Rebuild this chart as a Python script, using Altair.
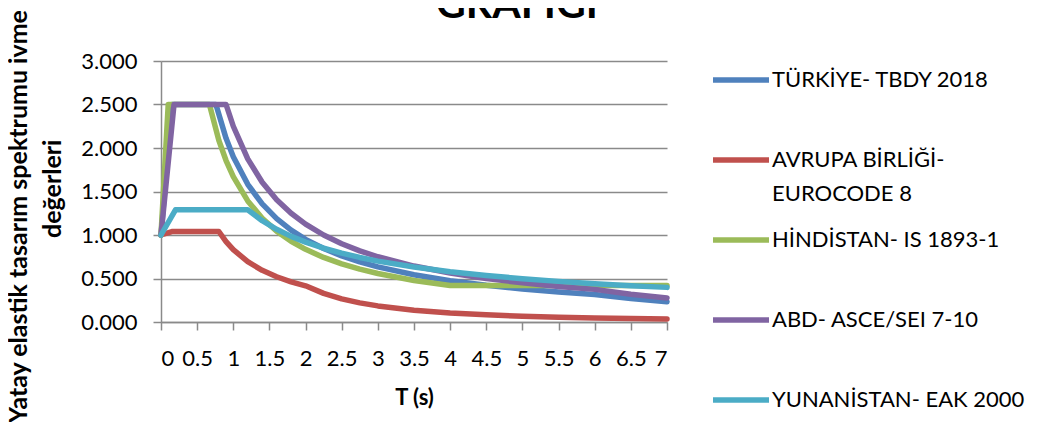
import altair as alt
import pandas as pd

SERIES = ["TÜRKİYE- TBDY 2018", "AVRUPA BİRLİĞİ-|EUROCODE 8", "HİNDİSTAN- IS 1893-1",
          "ABD- ASCE/SEI 7-10", "YUNANİSTAN- EAK 2000"]
COLORS = ["#4F81BD", "#C0504D", "#9BBB59", "#8064A2", "#4BACC6"]

T_TR = [0, 0.15, 0.76, 0.9, 1.0, 1.2, 1.4, 1.6, 1.8, 2.0, 2.25, 2.5, 2.75, 3.0, 3.5, 4.0, 4.5, 5.0, 5.5, 6.0, 6.5, 7.0]
SA_TR = [1.0, 2.5, 2.5, 2.111, 1.9, 1.583, 1.357, 1.188, 1.056, 0.95, 0.844, 0.76, 0.691, 0.633, 0.543, 0.475, 0.422, 0.38, 0.345, 0.317, 0.27, 0.233]

T_EC = [0, 0.15, 0.8, 0.9, 1.0, 1.2, 1.4, 1.6, 1.8, 2.0, 2.25, 2.5, 2.75, 3.0, 3.5, 4.0, 4.5, 5.0, 5.5, 6.0, 6.5, 7.0]
SA_EC = [1.0, 1.04, 1.04, 0.924, 0.832, 0.693, 0.594, 0.52, 0.462, 0.416, 0.329, 0.266, 0.22, 0.185, 0.136, 0.104, 0.082, 0.067, 0.055, 0.046, 0.039, 0.034]

T_IN = [0, 0.1, 0.67, 0.8, 0.9, 1.0, 1.2, 1.4, 1.6, 1.8, 2.0, 2.25, 2.5, 2.75, 3.0, 3.5, 4.0, 4.5, 5.0, 5.5, 6.0, 6.5, 7.0]
SA_IN = [1.0, 2.5, 2.5, 2.088, 1.856, 1.67, 1.392, 1.193, 1.044, 0.928, 0.835, 0.742, 0.668, 0.607, 0.557, 0.477, 0.42, 0.42, 0.42, 0.42, 0.42, 0.42, 0.42]

T_US = [0, 0.18, 0.9, 1.0, 1.2, 1.4, 1.6, 1.8, 2.0, 2.25, 2.5, 2.75, 3.0, 3.5, 4.0, 4.5, 5.0, 5.5, 6.0, 6.5, 7.0]
SA_US = [1.0, 2.5, 2.5, 2.25, 1.875, 1.607, 1.406, 1.25, 1.125, 1.0, 0.9, 0.818, 0.75, 0.643, 0.563, 0.5, 0.45, 0.409, 0.375, 0.32, 0.276]

T_GR = [0, 0.2, 1.2, 1.4, 1.6, 1.8, 2.0, 2.25, 2.5, 2.75, 3.0, 3.5, 4.0, 4.5, 5.0, 5.5, 6.0, 6.5, 7.0]
SA_GR = [1.0, 1.29, 1.29, 1.164, 1.065, 0.984, 0.918, 0.848, 0.791, 0.742, 0.7, 0.632, 0.578, 0.534, 0.498, 0.467, 0.441, 0.418, 0.398]

X_TICKS = [0, 0.5, 1, 1.5, 2, 2.5, 3, 3.5, 4, 4.5, 5, 5.5, 6, 6.5, 7]
Y_TICKS = [0, 0.5, 1.0, 1.5, 2.0, 2.5, 3.0]

rows = []
for name, ts, vs in zip(SERIES, [T_TR, T_EC, T_IN, T_US, T_GR], [SA_TR, SA_EC, SA_IN, SA_US, SA_GR]):
    for t, v in zip(ts, vs):
        rows.append({"seri": name, "T": t, "Sa": v})
df = pd.DataFrame(rows)

FONT = "Lato"
GRID = "#8a8a8a"
# blank (non-trimmed) lead so the second title line sits a little higher, as in the reference
LEAD = "\u2800" + "\u2002" * 3

chart = alt.Chart(df).mark_line(strokeWidth=5.5, strokeCap="round", strokeJoin="round").encode(
    x=alt.X("T:Q", scale=alt.Scale(domain=[0, 7], nice=False),
            axis=alt.Axis(values=X_TICKS, labelExpr="datum.value + ''", grid=False,
                          tickSize=8, labelPadding=18, labelFontSize=22,
                          title="T (s)", titleFontSize=22, titleFontWeight="bold",
                          titleY=75, titleBaseline="middle")),
    y=alt.Y("Sa:Q", scale=alt.Scale(domain=[0, 3], nice=False),
            axis=alt.Axis(values=Y_TICKS, format=".3f", grid=True, tickSize=8,
                          labelPadding=16, labelFontSize=22,
                          title=["Yatay elastik tasarım spektrumu ivme", LEAD + "değerleri"],
                          titleFontSize=25, titleFontWeight="bold", titleAngle=270,
                          titleX=-143, titleY=155, titleAlign="center",
                          titleBaseline="middle", titleLineHeight=34)),
    color=alt.Color("seri:N", sort=SERIES,
                    scale=alt.Scale(domain=SERIES, range=COLORS),
                    legend=alt.Legend(orient="none", legendX=549, legendY=-12, title=None,
                                      symbolType="M-1,0H1", symbolSize=3136,
                                      symbolStrokeWidth=5.5, labelFont=FONT,
                                      labelFontSize=22, labelOffset=0, labelLimit=400,
                                      rowPadding=4, padding=0,
                                      labelExpr="indexof(datum.label, '|') >= 0 ? split(datum.label, '|') : [datum.label, ' ']")),
    order=alt.Order("T:Q"),
).properties(
    width=506, height=261,
    title=alt.TitleParams(text="GRAFİĞİ", fontSize=41, font=FONT, fontWeight="bold",
                          anchor="middle", frame="group", offset=0, dy=50,
                          baseline="alphabetic", dx=103, color="black"),
    padding={"left": 153, "top": 53, "right": 366, "bottom": 100},
    autosize=alt.AutoSizeParams(type="none"),
).configure(
    style={"guide-label": {"lineHeight": 34}}
).configure_view(stroke=None).configure_axis(
    labelFont=FONT, titleFont=FONT, labelColor="black", titleColor="black",
    gridColor=GRID, gridWidth=1.5, domainColor=GRID, domainWidth=1.5,
    tickColor=GRID, tickWidth=1.5,
).configure_legend(labelColor="black")

chart.save("out.html", embed_options={"renderer": "svg", "actions": False})
